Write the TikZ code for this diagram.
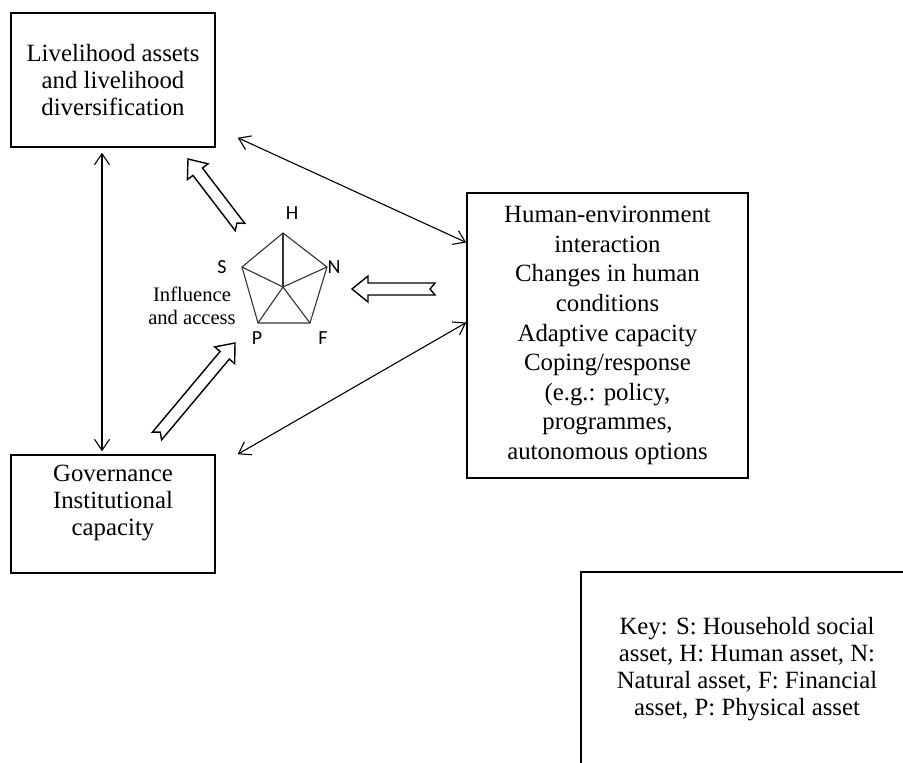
\documentclass[tikz,border=0pt]{standalone}
\usepackage{fontspec}
\setmainfont{Liberation Serif}
\newfontfamily\lblfont{Carlito}
\usetikzlibrary{arrows.meta,calc}
\tikzset{box/.style={draw, line width=1.5pt, inner sep=0pt, align=center},
  boxtext/.style={align=center, inner sep=0pt, font=\fontsize{24.8}{27}\selectfont},
  link/.style={line width=1.1pt, {Straight Barb[length=11pt,width=15pt]}-{Straight Barb[length=11pt,width=15pt]}},
  hollow/.style={line width=1.4pt, line join=miter},
  pent/.style={line width=1.1pt, black!80},
  asset/.style={inner sep=0pt, font=\lblfont\fontsize{20}{22}\selectfont}}
\newcommand{\fatarrow}[2]{%
  \draw[hollow] let \p1=($(#2)-(#1)$), \n1={atan2(\y1,\x1)}, \n2={veclen(\x1,\y1)} in
    [shift={(#2)}, rotate=\n1] (0,0) -- (-16,13) -- (-16,6) -- (-\n2,6) -- (-\n2+5,0)
    -- (-\n2,-6) -- (-16,-6) -- (-16,-13) -- cycle;}

\begin{document}
\begin{tikzpicture}[x=1pt, y=-1pt]
    \clip (0,0) rectangle (903,763);
    \fill[white] (0,0) rectangle (903,763);

    % boxes
    \node [box, boxtext, minimum width=204pt, minimum height=134pt] (lh) at (113,80)
      {Livelihood assets\\and livelihood\\diversification};
    \node [box, minimum width=204pt, minimum height=118pt] (gov) at (113,514) {};
    \node [boxtext] (govtext) at (113,503) {Governance\\Institutional\\capacity};
    \node [box, minimum width=281pt, minimum height=285pt, font=\fontsize{24.8}{29.6}\selectfont] (hei) at (607.5,335.5)
      {Human-environment\\interaction\\Changes in human\\conditions\\Adaptive capacity\\Coping/response\\(e.g.: policy,\\programmes,\\autonomous options};
    \node [box, boxtext, minimum width=332pt, minimum height=194pt] (key) at (747,669)
      {Key: S: Household social\\asset, H: Human asset, N:\\Natural asset, F: Financial\\asset, P: Physical asset};

    % pentagon of assets
    \coordinate (ctr) at (283,287);
    \coordinate (H) at (283,233);
    \coordinate (N) at (327,267);
    \coordinate (F) at (310,323);
    \coordinate (P) at (258,323);
    \coordinate (S) at (242,267);
    \draw [pent] (H) -- (N) -- (F) -- (P) -- (S) -- cycle;
    \foreach \v in {H,N,F,P,S} {
      \draw [pent] (ctr) -- (\v);
    }
    \node [asset] (labH) at (292,213) {H};
    \node [asset] (labS) at (222,267) {S};
    \node [asset] (labN) at (334,267) {N};
    \node [asset] (labP) at (257,338) {P};
    \node [asset] (labF) at (323,338) {F};
    \node [align=center, inner sep=0pt, font=\fontsize{20.6}{23}\selectfont] (infl) at (192,306) {Influence\\and access};

    % links between boxes
    \draw [link] ($(lh.south)+(-11,5)$) -- ($(gov.north)+(-11,-3)$);
    \draw [link] ($(lh.south east)+(22,-10)$) -- ($(hei.west)+(0,-93)$);
    \draw [link] ($(gov.north east)+(22,0)$) -- ($(hei.west)+(0,-13)$);

    % hollow arrows
    \coordinate (tailA) at (240,227);
    \coordinate (headA) at (188,159);
    \coordinate (tailB) at (435,289);
    \coordinate (headB) at (352,289);
    \coordinate (tailC) at (157,436);
    \coordinate (headC) at (235,343);
    \fatarrow{tailA}{headA}
    \fatarrow{tailB}{headB}
    \fatarrow{tailC}{headC}
\end{tikzpicture}
\end{document}
